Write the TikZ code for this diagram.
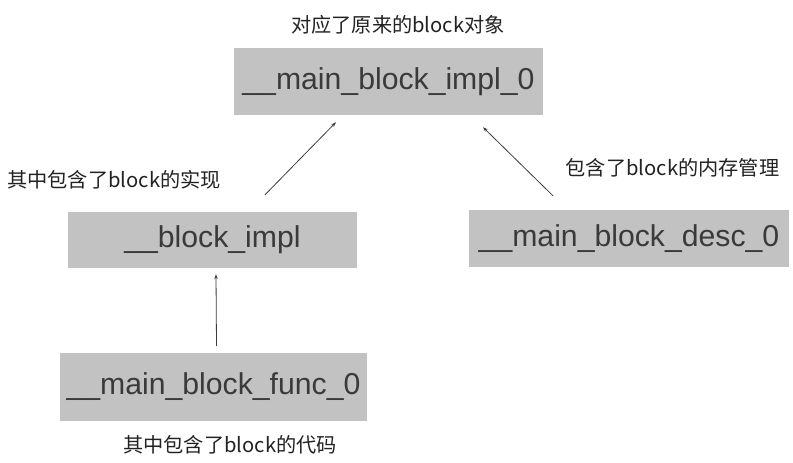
\documentclass[tikz,border=0pt]{standalone}
\usepackage{fontspec}
\setmainfont{Liberation Sans}
\newfontfamily\cjk{Noto Sans CJK SC}
\usetikzlibrary{arrows.meta,positioning}
\definecolor{boxgray}{RGB}{194,194,194}
\definecolor{inkgray}{RGB}{34,34,34}
\definecolor{arrowgray}{RGB}{60,60,60}

\begin{document}
\begin{tikzpicture}[x=1pt,y=-1pt,>={Stealth[length=5pt,width=3.5pt]},
 box/.style={fill=boxgray,draw=none,inner sep=0pt,text=inkgray!85!boxgray,
  font=\fontsize{30.2}{36}\selectfont},
 note/.style={inner sep=0pt,text=inkgray,font=\cjk\fontsize{20.2}{24}\selectfont},
 arr/.style={->,draw=arrowgray,line width=.8pt}]
 \useasboundingbox (0,0) rectangle (793,463);
 % boxes
 \node[box,minimum width=309pt,minimum height=67pt] (mainimpl) at (388.5,81.5) {\_\_main\_block\_impl\_0};
 \node[box,minimum width=289pt,minimum height=56pt] (blockimpl) at (212.5,240) {\_\_block\_impl};
 \node[box,minimum width=320pt,minimum height=57pt] (maindesc) at (629,238.5) {\_\_main\_block\_desc\_0};
 \node[box,minimum width=307pt,minimum height=68pt] (mainfunc) at (213.5,387) {\_\_main\_block\_func\_0};
 % notes
 \node[note] (topnote) at (398,25) {对应了原来的block对象};
 \node[note] (implnote) at (114,180) {其中包含了block的实现};
 \node[note] (descnote) at (672.5,168) {包含了block的内存管理};
 \node[note] (funcnote) at (230,445) {其中包含了block的代码};
 % arrows
 \draw[arr] ([xshift=52.5pt,yshift=17pt]blockimpl.north) -- ([xshift=-52.5pt,yshift=-7pt]mainimpl.south);
 \draw[arr] ([xshift=-76pt,yshift=14pt]maindesc.north) -- ([xshift=94.5pt,yshift=-12pt]mainimpl.south);
 \draw[arr] ([xshift=3pt,yshift=7pt]mainfunc.north) -- ([xshift=3.5pt,yshift=-6pt]blockimpl.south);
\end{tikzpicture}
\end{document}
